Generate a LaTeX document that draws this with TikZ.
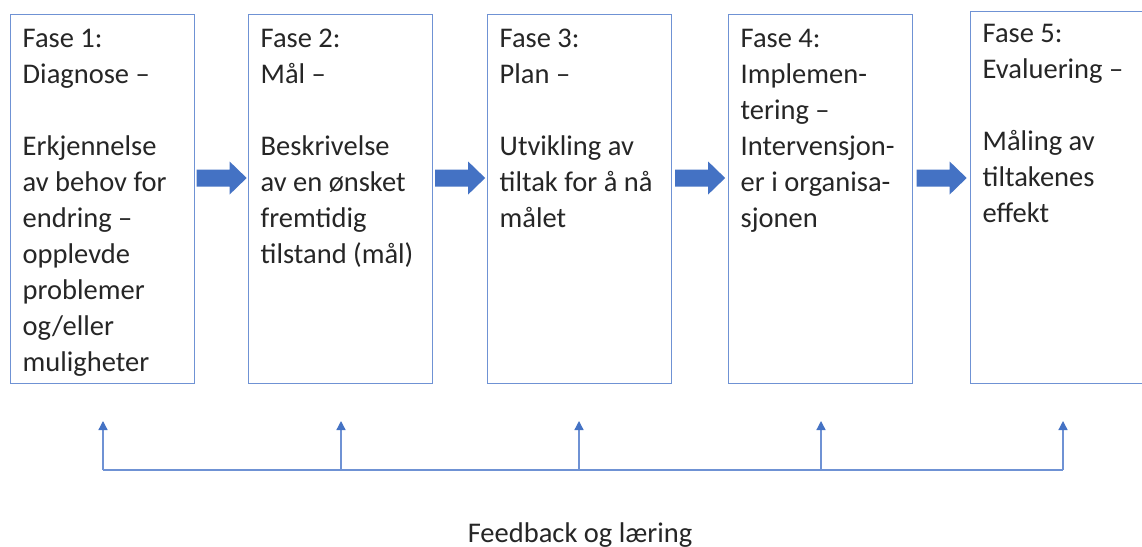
\documentclass[tikz,border=0pt]{standalone}
\usepackage{fontspec}
\setmainfont{Carlito}
\usetikzlibrary{arrows.meta,calc}
\definecolor{accent}{HTML}{4472C4}
\definecolor{boxline}{HTML}{6F92D4}
\definecolor{txt}{HTML}{262626}
\tikzset{
  phasebox/.style={draw=boxline, line width=1.3pt, minimum width=184pt, minimum height=369pt, anchor=north west, inner sep=0pt},
  phasetext/.style={anchor=north west, align=left, inner sep=0pt, text=txt, font=\fontsize{28.5}{36}\selectfont, execute at begin node=\strut},
  arrowfill/.style={fill=accent},
  fbline/.style={draw=boxline, line width=1.3pt},
  fbarrow/.style={draw=boxline, line width=1.3pt, -{Triangle[length=9pt,width=9pt,color=accent]}},
  fblabel/.style={anchor=base, inner sep=0pt, text=txt, font=\fontsize{28.5}{36}\selectfont}
}
\newcommand{\blockarr}[2]{%
  \fill[arrowfill] ($($(#1.east |- ay)!0.5!(#2.west |- ay)$)+(-25,-8.5)$) -- ++(33,0) -- ++(0,-8) -- ++(17,16.5) -- ++(-17,16.5) -- ++(0,-8) -- ++(-33,0) -- cycle;}
\begin{document}
\begin{tikzpicture}[x=1pt,y=-1pt]
\useasboundingbox[fill=white] (0,0) rectangle (1142,546);
\coordinate (ay) at (0,178);
% boxes
\node[phasebox] (b1) at (10,14) {};
\node[phasebox] (b2) at (248,14) {};
\node[phasebox] (b3) at (487,14) {};
\node[phasebox] (b4) at (728,14) {};
\node[phasebox, minimum height=372pt] (b5) at (970,11) {};
% texts
\node[phasetext] (t1) at ($(b1.north west)+(12.5,14.5)$) {Fase 1:\\Diagnose –\\[36pt]Erkjennelse\\av behov for\\endring –\\opplevde\\problemer\\og/eller\\muligheter};
\node[phasetext] (t2) at ($(b2.north west)+(12.5,14.5)$) {Fase 2:\\Mål –\\[36pt]Beskrivelse\\av en ønsket\\fremtidig\\tilstand (mål)};
\node[phasetext] (t3) at ($(b3.north west)+(12.5,14.5)$) {Fase 3:\\Plan –\\[36pt]Utvikling av\\tiltak for å nå\\målet};
\node[phasetext] (t4) at ($(b4.north west)+(12.5,14.5)$) {Fase 4:\\Implemen-\\tering –\\Intervensjon-\\er i organisa-\\sjonen};
\node[phasetext] (t5) at ($(b5.north west)+(12.5,13.5)$) {Fase 5:\\Evaluering –\\[36pt]Måling av\\tiltakenes\\effekt};
% block arrows
\blockarr{b1}{b2}
\blockarr{b2}{b3}
\blockarr{b3}{b4}
\blockarr{b4}{b5}
% feedback
\coordinate (f1) at (103,470);
\coordinate (f2) at (341,470);
\coordinate (f3) at (579,470);
\coordinate (f4) at (821,470);
\coordinate (f5) at (1063,470);
\coordinate (h1) at (103,421);
\coordinate (h2) at (341,421);
\coordinate (h3) at (579,421);
\coordinate (h4) at (821,421);
\coordinate (h5) at (1063,421);
\draw[fbline] (f1) -- (f5);
\foreach \i in {1,...,5} {\draw[fbarrow] (f\i) -- (h\i);}
\node[fblabel] (fb) at (580,542) {Feedback og læring};
\end{tikzpicture}
\end{document}
